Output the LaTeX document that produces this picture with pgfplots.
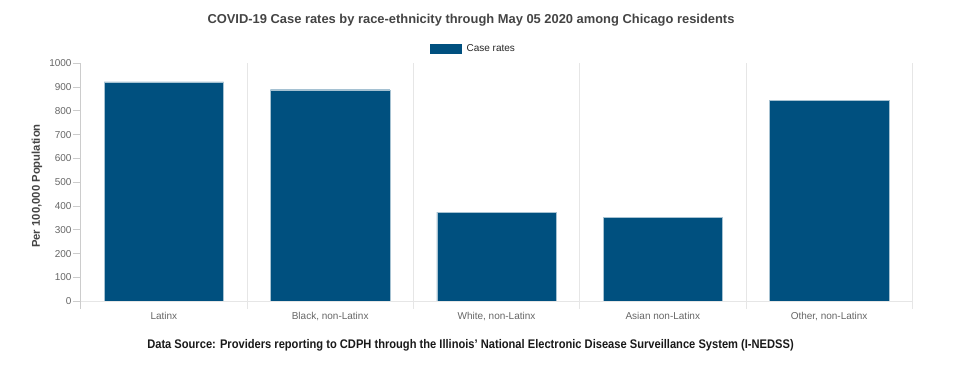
\documentclass[border=0pt]{standalone}
\usepackage{pgfplots}
\pgfplotsset{compat=1.18}
\usepackage{fontspec}
\setmainfont{Liberation Sans}
\definecolor{barcol}{HTML}{00507F}
\definecolor{gridc}{HTML}{E6E6E6}
\definecolor{axc}{HTML}{CCCCCC}
\definecolor{labc}{HTML}{666666}
\definecolor{titc}{HTML}{444444}
\begin{document}
\begin{tikzpicture}[x=1pt,y=1pt]
\useasboundingbox (0,0) rectangle (964,371);
\node[font=\bfseries\fontsize{12.9}{15}\selectfont, color=titc] at (471,351) {COVID-19 Case rates by race-ethnicity through May 05 2020 among Chicago residents};
\node[rotate=90, font=\bfseries\fontsize{11.3}{13}\selectfont, color=titc] at (37,185) {Per 100,000 Population};
\node[font=\bfseries\fontsize{12.5}{15}\selectfont, color=black!90] at (470.5,25.5) {\scalebox{0.89}[1]{Data Source: Providers reporting to CDPH through the Illinois' National Electronic Disease Surveillance System (I-NEDSS)}};
\begin{axis}[
  at={(80.7pt,69.7pt)}, anchor=south west, scale only axis,
  width=831.6pt, height=238pt,
  ymin=0, ymax=1000, xmin=-0.5, xmax=4.5,
  clip=false,
  axis line style={draw=none},
  ytick={0,100,...,1000},
  ytick pos=left,
  /pgf/number format/assume math mode=true,
  /pgf/number format/1000 sep={},
  xtick={0,1,2,3,4},
  xticklabels={Latinx, {Black, non-Latinx}, {White, non-Latinx}, {Asian non-Latinx}, {Other, non-Latinx}},
  minor xtick={-0.5,0.5,1.5,2.5,3.5,4.5},
  xminorgrids,
  minor grid style={gridc, line width=0.8pt},
  major tick length=8pt, minor tick length=0pt,
  tick align=outside,
  ytick style={axc, line width=0.8pt},
  xtick style={draw=none},
  yticklabel style={font=\fontsize{10}{12}\selectfont, color=labc, inner sep=1pt},
  xticklabel style={font=\fontsize{10}{12}\selectfont, color=labc, yshift=0.5pt},
  legend style={at={(rel axis cs:0.4718,1.06)}, anchor=center, draw=none, fill=none,
    font=\fontsize{10}{12}\selectfont, text=black!85, nodes={inner sep=1pt}},
  legend image code/.code={\fill[barcol] (0pt,-4.5pt) rectangle (31pt,4.5pt);},
]
\addplot[ybar, bar width=119.4pt, fill=barcol, draw=white!65!barcol, line width=0.4pt]
  coordinates {(0,922) (1,889) (2,375) (3,353) (4,843)};
\addlegendentry{\hspace{4pt}Case rates}
\draw[gridc, line width=0.8pt] (axis cs:-0.5,0) -- (axis cs:4.5,0);
\draw[gridc, line width=0.8pt] (axis cs:0.5,0) -- ++(0pt,-8pt);
\draw[gridc, line width=0.8pt] (axis cs:1.5,0) -- ++(0pt,-8pt);
\draw[gridc, line width=0.8pt] (axis cs:2.5,0) -- ++(0pt,-8pt);
\draw[gridc, line width=0.8pt] (axis cs:3.5,0) -- ++(0pt,-8pt);
\draw[gridc, line width=0.8pt] (axis cs:4.5,0) -- ++(0pt,-8pt);
\draw[axc, line width=0.8pt] (axis cs:-0.5,1000) -- (axis cs:-0.5,0) -- ++(0pt,-8pt);
\end{axis}
\end{tikzpicture}
\end{document}
